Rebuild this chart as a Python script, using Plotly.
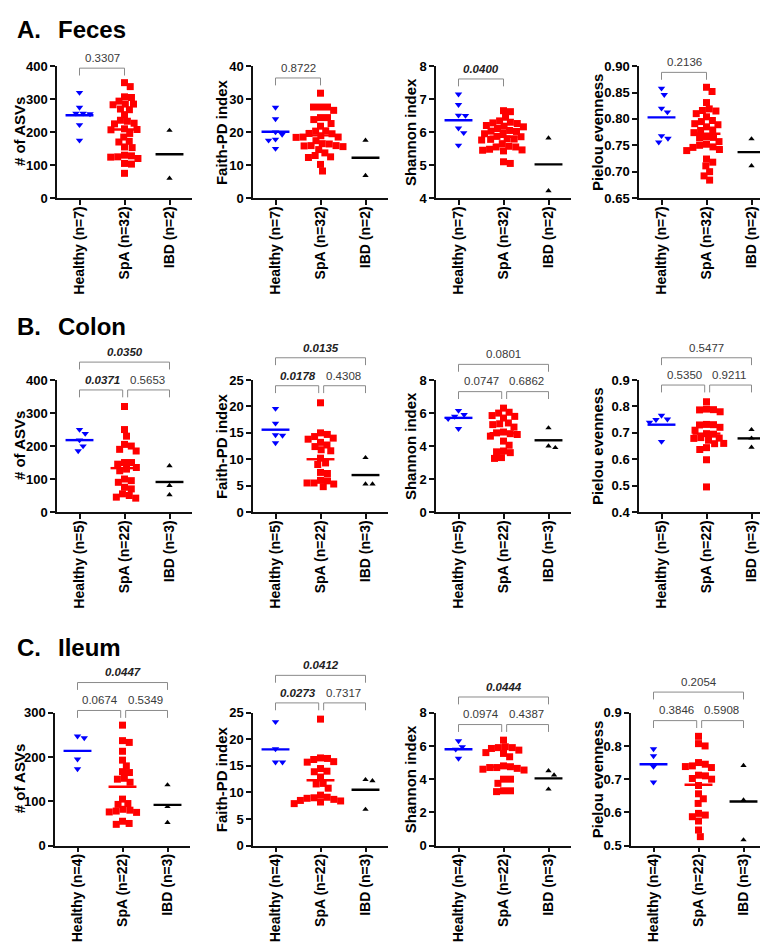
import numpy as np
import plotly.graph_objects as go

W, H = 768, 945

# ---------------- data ----------------
feces_cats = ["Healthy (n=7)", "SpA (n=32)", "IBD (n=2)"]
colon_cats = ["Healthy (n=5)", "SpA (n=22)", "IBD (n=3)"]
ileum_cats = ["Healthy (n=4)", "SpA (n=22)", "IBD (n=3)"]

metric_titles = ["# of ASVs", "Faith-PD index", "Shannon index", "Pielou evenness"]

# Feces
feces_asv = [
    [320, 275, 257, 255, 257, 222, 175],
    [350, 338, 307, 305, 294, 285, 285, 283, 270, 268, 253, 236, 233, 227, 225, 210,
     208, 207, 196, 185, 172, 170, 155, 153, 130, 128, 125, 124, 105, 103, 75, 120],
    [205, 60],
]
feces_faith = [
    [27.5, 24.0, 20.0, 19.3, 17.8, 17.5, 15.0],
    [31.8, 27.6, 27.6, 27.6, 26.6, 24.4, 24.4, 23.8, 22.6, 21.8, 20.4, 20.3, 19.6, 19.5,
     18.9, 18.5, 18.5, 18.4, 17.4, 16.5, 16.4, 15.9, 15.9, 15.8, 15.6, 14.7, 13.7, 12.9,
     12.5, 12.3, 10.2, 8.2],
    [17.5, 6.8],
]
feces_shannon = [
    [7.15, 6.83, 6.51, 6.50, 6.12, 5.98, 5.60],
    [6.65, 6.62, 6.45, 6.34, 6.30, 6.28, 6.26, 6.20, 6.18, 6.16, 6.11, 6.05, 6.03, 6.02,
     5.97, 5.95, 5.87, 5.86, 5.80, 5.79, 5.78, 5.76, 5.65, 5.57, 5.55, 5.55, 5.48, 5.46,
     5.45, 5.43, 5.10, 5.05],
    [5.82, 4.22],
]
feces_pielou = [
    [0.858, 0.846, 0.820, 0.813, 0.768, 0.763, 0.756],
    [0.860, 0.852, 0.831, 0.819, 0.816, 0.815, 0.810, 0.804, 0.797, 0.795, 0.791, 0.684,
     0.789, 0.785, 0.779, 0.778, 0.774, 0.766, 0.765, 0.764, 0.757, 0.752, 0.750, 0.747,
     0.746, 0.742, 0.740, 0.724, 0.718, 0.711, 0.700, 0.692],
    [0.762, 0.711],
]
feces_means = [[251, 208, 133], [20.1, 19.0, 12.2], [6.36, 5.86, 5.02], [0.803, 0.772, 0.737]]

# Colon
colon_asv = [
    [250, 238, 218, 200, 185],
    [320, 250, 230, 205, 200, 190, 185, 150, 150, 145, 135, 130, 125, 100, 95, 90, 75,
     70, 55, 50, 45, 42],
    [140, 80, 52],
]
colon_faith = [
    [19.6, 16.8, 14.6, 14.5, 13.1],
    [20.7, 15.0, 14.7, 14.3, 14.0, 13.8, 13.2, 12.7, 12.4, 11.8, 11.6, 10.2, 9.3, 9.0,
     7.5, 7.3, 6.0, 5.9, 5.5, 5.5, 5.3, 4.8],
    [10.3, 5.3, 5.3],
]
colon_shannon = [
    [6.15, 5.90, 5.80, 5.65, 5.05],
    [6.30, 6.05, 6.00, 5.85, 5.80, 5.70, 5.40, 5.35, 5.30, 5.15, 4.85, 4.80, 4.75, 4.70,
     4.30, 4.05, 3.70, 3.65, 3.60, 3.30, 3.25, 4.60],
    [5.10, 3.90, 4.00],
]
colon_pielou = [
    [0.766, 0.752, 0.750, 0.740, 0.667],
    [0.818, 0.790, 0.788, 0.787, 0.780, 0.732, 0.731, 0.730, 0.721, 0.710, 0.697, 0.695,
     0.682, 0.680, 0.679, 0.495, 0.672, 0.660, 0.659, 0.644, 0.637, 0.598],
    [0.712, 0.680, 0.645],
]
colon_means = [[218, 133, 91], [15.6, 10.0, 7.0], [5.71, 4.78, 4.35], [0.731, 0.697, 0.679]]

# Ileum
ileum_asv = [
    [247, 243, 195, 173],
    [272, 237, 233, 213, 193, 180, 167, 165, 152, 150, 143, 105, 95, 93, 82, 80, 78, 76,
     75, 55, 50, 48],
    [137, 88, 52],
]
ileum_faith = [
    [23.3, 18.2, 15.7, 15.7],
    [23.8, 16.5, 16.4, 16.2, 15.8, 15.7, 14.5, 14.0, 13.9, 12.9, 11.7, 11.6, 10.8, 9.5,
     9.1, 9.0, 8.9, 8.7, 8.5, 8.4, 8.2, 7.9],
    [12.4, 12.2, 6.8],
]
ileum_shannon = [
    [6.30, 5.95, 5.80, 5.25],
    [6.35, 5.95, 5.90, 5.90, 5.85, 5.75, 5.60, 5.55, 5.35, 4.80, 4.75, 4.70, 4.70, 4.65,
     4.60, 4.55, 4.00, 4.00, 3.75, 3.30, 3.30, 3.25],
    [4.50, 4.25, 3.40],
]
ileum_pielou = [
    [0.791, 0.770, 0.738, 0.691],
    [0.829, 0.807, 0.800, 0.750, 0.745, 0.740, 0.738, 0.735, 0.712, 0.710, 0.702, 0.700,
     0.681, 0.656, 0.641, 0.627, 0.597, 0.592, 0.587, 0.574, 0.547, 0.527],
    [0.741, 0.637, 0.517],
]
ileum_means = [[214, 133, 92], [18.1, 12.3, 10.5], [5.80, 4.75, 4.05], [0.745, 0.683, 0.633]]

# p-values: (group i, group j, text, significant)
feces_pvals = [
    [(0, 1, "0.3307", False)],
    [(0, 1, "0.8722", False)],
    [(0, 1, "0.0400", True)],
    [(0, 1, "0.2136", False)],
]
colon_pvals = [
    [(0, 1, "0.0371", True), (1, 2, "0.5653", False), (0, 2, "0.0350", True)],
    [(0, 1, "0.0178", True), (1, 2, "0.4308", False), (0, 2, "0.0135", True)],
    [(0, 1, "0.0747", False), (1, 2, "0.6862", False), (0, 2, "0.0801", False)],
    [(0, 1, "0.5350", False), (1, 2, "0.9211", False), (0, 2, "0.5477", False)],
]
ileum_pvals = [
    [(0, 1, "0.0674", False), (1, 2, "0.5349", False), (0, 2, "0.0447", True)],
    [(0, 1, "0.0273", True), (1, 2, "0.7317", False), (0, 2, "0.0412", True)],
    [(0, 1, "0.0974", False), (1, 2, "0.4387", False), (0, 2, "0.0444", True)],
    [(0, 1, "0.3846", False), (1, 2, "0.5908", False), (0, 2, "0.2054", False)],
]

# axis specs: (min, max, dtick, format)
feces_axes = [(0, 400, 100, "d"), (0, 40, 10, "d"), (4, 8, 1, "d"), (0.65, 0.90, 0.05, ".2f")]
colon_axes = [(0, 400, 100, "d"), (0, 25, 5, "d"), (0, 8, 2, "d"), (0.4, 0.9, 0.1, ".1f")]
ileum_axes = [(0, 300, 100, "d"), (0, 25, 5, "d"), (0, 8, 2, "d"), (0.5, 0.9, 0.1, ".1f")]

# ---------------- layout / style ----------------
FONT = "Liberation Sans, Arial, Helvetica, sans-serif"
COLORS = ["#0000FF", "#FF0000", "#000000"]
SYMBOLS = ["triangle-down", "square", "triangle-up"]
MSIZES = [6.5, 7, 5.5]

rows = [
    dict(letter="A.", name="Feces", title_y=15, cats=feces_cats,
         data=[feces_asv, feces_faith, feces_shannon, feces_pielou], means=feces_means,
         pvals=feces_pvals, axes=feces_axes, ypix=(52, 186),
         xpix=[(49, 184), (245, 380), (428, 563), (631, 766)],
         bars=[[54], [64], [65], [58.3]]),
    dict(letter="B.", name="Colon", title_y=316.5, cats=colon_cats,
         data=[colon_asv, colon_faith, colon_shannon, colon_pielou], means=colon_means,
         pvals=colon_pvals, axes=colon_axes, ypix=(371, 505),
         xpix=[(49, 184), (245, 380), (428, 563), (631, 766)],
         bars=[[381, 352.7], [376.7, 348.3], [382.7, 355], [376, 348.3]]),
    dict(letter="C.", name="Ileum", title_y=643, cats=ileum_cats,
         data=[ileum_asv, ileum_faith, ileum_shannon, ileum_pielou], means=ileum_means,
         pvals=ileum_pvals, axes=ileum_axes, ypix=(709, 844),
         xpix=[(47, 182), (245, 380), (428, 563), (623, 758)],
         bars=[[706.7, 678.3], [699, 671], [721, 693], [717, 688]]),
]
ytitle_x = [11, 213, 402, 589]


def px2paper_x(px):
    return px / W


def px2paper_y(py):
    return 1 - py / H


def swarm(values, px_per_unit, px_per_cat, d=7.0):
    vals = np.asarray(values, dtype=float)
    order = np.argsort(-vals, kind="stable")
    placed = []
    xs = np.zeros(len(vals))
    for i in order:
        y = vals[i] * px_per_unit
        forb = []
        for (px, py) in placed:
            dy = abs(py - y)
            if dy < d:
                dx = np.sqrt(d * d - dy * dy)
                forb.append((px - dx, px + dx))
        cands = [0.0] + [a for a, b in forb] + [b for a, b in forb]
        cands.sort(key=lambda c: (abs(c), -c))
        xbest = 0.0
        for c in cands:
            if all(not (a + 1e-6 < c < b - 1e-6) for a, b in forb):
                xbest = c
                break
        placed.append((xbest, y))
        xs[i] = xbest / px_per_cat
    return xs


fig = go.Figure()
annotations = []
shapes = []
layout_axes = {}

k = 0
for row in rows:
    annotations.append(dict(text="<b>%s</b>" % row["letter"], x=px2paper_x(7), y=px2paper_y(row["title_y"]),
                            xref="paper", yref="paper", xanchor="left", yanchor="middle", showarrow=False,
                            font=dict(family=FONT, size=24, color="black")))
    annotations.append(dict(text="<b>%s</b>" % row["name"], x=px2paper_x(48), y=px2paper_y(row["title_y"]),
                            xref="paper", yref="paper", xanchor="left", yanchor="middle", showarrow=False,
                            font=dict(family=FONT, size=24, color="black")))
    y0p, y1p = row["ypix"]
    for c in range(4):
        k += 1
        xa = "x" if k == 1 else "x%d" % k
        ya = "y" if k == 1 else "y%d" % k
        x0p, x1p = row["xpix"][c]
        vmin, vmax, dtick, fmt = row["axes"][c]
        px_per_unit = (y1p - y0p) / (vmax - vmin)
        px_per_cat = (x1p - x0p) / 3.0
        panel = row["data"][c]
        for g in range(3):
            offs = swarm(panel[g], px_per_unit, px_per_cat)
            fig.add_trace(go.Scatter(
                x=g + offs, y=panel[g], mode="markers", xaxis=xa, yaxis=ya,
                marker=dict(symbol=SYMBOLS[g], size=MSIZES[g], color=COLORS[g], line=dict(width=0)),
                showlegend=False, hoverinfo="skip", cliponaxis=False))
        for g in range(3):
            m = row["means"][c][g]
            fig.add_trace(go.Scatter(
                x=[g - 0.31, g + 0.31], y=[m, m], mode="lines", xaxis=xa, yaxis=ya,
                line=dict(color=COLORS[g], width=2.4), showlegend=False, hoverinfo="skip"))
        suffix = "" if k == 1 else str(k)
        layout_axes["xaxis" + suffix] = dict(
            domain=[px2paper_x(x0p), px2paper_x(x1p)], anchor=ya, range=[-0.5, 2.5],
            tickmode="array", tickvals=[0, 1, 2], ticktext=row["cats"], tickangle=-90,
            showline=True, linecolor="#111", linewidth=1.5, ticks="outside", ticklen=5,
            tickwidth=1.5, tickcolor="#111", showgrid=False, zeroline=False,
            ticklabelstandoff=-4,
            tickfont=dict(family=FONT, size=14, color="black", weight="bold"))
        layout_axes["yaxis" + suffix] = dict(
            domain=[px2paper_y(y1p), px2paper_y(y0p)], anchor=xa, range=[vmin, vmax],
            tick0=vmin, dtick=dtick, tickformat=fmt,
            showline=True, linecolor="#111", linewidth=1.5, ticks="outside", ticklen=5,
            tickwidth=1.5, tickcolor="#111", showgrid=False, zeroline=False,
            tickfont=dict(family=FONT, size=13, color="black", weight="bold"))
        # y-axis title
        annotations.append(dict(text="<b>%s</b>" % metric_titles[c], textangle=-90,
                                x=px2paper_x(ytitle_x[c]),
                                y=px2paper_y((y0p + y1p) / 2), xref="paper", yref="paper",
                                xanchor="center", yanchor="middle", showarrow=False,
                                font=dict(family=FONT, size=15, color="black")))
        # significance brackets
        bars = row["bars"][c]
        for (i, j, txt, sig) in row["pvals"][c]:
            level = 1 if (i == 0 and j == 2) else 0
            ybar = bars[level]
            yleg = ybar + 7.5
            ytxt = ybar - 10.3
            xl, xr = float(i), float(j)
            if level == 0 and len(row["pvals"][c]) > 1:
                if j == 1:
                    xr = j - 0.04
                if i == 1:
                    xl = i + 0.07
            shapes.append(dict(type="path", xref=xa, yref="paper",
                               path="M %f,%f L %f,%f L %f,%f L %f,%f" % (
                                   xl, px2paper_y(yleg), xl, px2paper_y(ybar),
                                   xr, px2paper_y(ybar), xr, px2paper_y(yleg)),
                               line=dict(color="#8a8a8a", width=1)))
            label = "<b><i>%s</i></b>" % txt if sig else txt
            annotations.append(dict(text=label, x=(i + j) / 2.0, y=px2paper_y(ytxt), xref=xa, yref="paper",
                                    xanchor="center", yanchor="middle", showarrow=False,
                                    font=dict(family=FONT, size=11.5, color="#222" if sig else "#3a3a3a")))

fig.update_layout(width=W, height=H, margin=dict(l=0, r=0, t=0, b=0),
                  paper_bgcolor="white", plot_bgcolor="white",
                  annotations=annotations, shapes=shapes, showlegend=False,
                  font=dict(family=FONT), **layout_axes)

fig.write_html("out.html")
